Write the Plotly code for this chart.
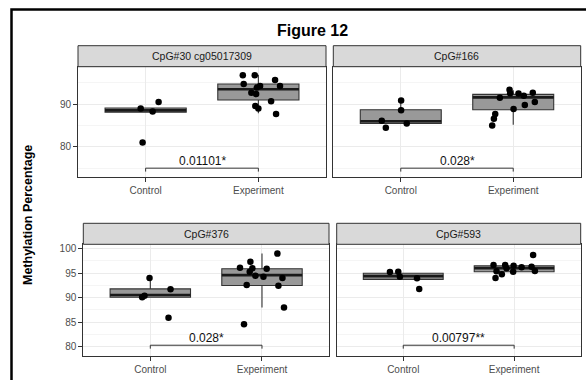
import plotly.graph_objects as go

# ---------------- data ----------------
categories = ["Control", "Experiment"]
panel_titles = ["CpG#30 cg05017309", "CpG#166", "CpG#376", "CpG#593"]
p_labels = ["0.01101*", "0.028*", "0.028*", "0.00797**"]

# methylation values (points) and horizontal jitter (category units)
p1_control = [89.0, 88.3, 90.5, 81.0]
p1_control_jit = [-0.044, 0.062, 0.115, -0.027]
p1_exp = [96.8, 96.8, 95.7, 94.75, 94.3, 94.3, 93.9, 92.7, 92.4, 90.7, 89.6, 89.0, 87.7]
p1_exp_jit = [-0.138, -0.032, 0.148, -0.13, 0.192, 0.015, -0.014, -0.062, -0.02, 0.113, -0.027, 0.0, 0.157]

p2_control = [90.9, 88.6, 86.1, 84.5, 85.5]
p2_control_jit = [0.003, 0.003, -0.169, -0.133, 0.053]
p2_exp = [93.4, 92.6, 91.5, 92.5, 92.0, 92.7, 90.5, 89.8, 88.9, 87.7, 86.6, 85.0]
p2_exp_jit = [-0.033, -0.027, -0.119, 0.047, 0.094, 0.174, 0.192, 0.103, 0.003, -0.16, -0.172, -0.187]

p3_control = [94.0, 91.7, 90.4, 90.1, 85.9]
p3_control_jit = [-0.007, 0.181, -0.052, -0.073, 0.163]
p3_exp = [99.0, 96.1, 97.35, 96.0, 95.3, 94.5, 95.9, 94.3, 94.0, 92.6, 92.45, 88.0, 84.6]
p3_exp_jit = [0.138, -0.197, -0.104, -0.086, -0.11, -0.059, 0.042, 0.013, 0.183, -0.137, 0.147, 0.197, -0.161]

p4_control = [95.25, 95.3, 94.3, 93.95, 91.8]
p4_control_jit = [-0.12, -0.045, -0.03, 0.124, 0.144]
p4_exp = [98.7, 96.7, 96.7, 96.5, 96.2, 96.3, 95.4, 94.0, 94.8, 95.3, 95.45, 96.0]
p4_exp_jit = [0.171, -0.186, -0.081, -0.005, 0.067, 0.157, -0.159, -0.168, -0.111, -0.009, 0.187, -0.069]

# box statistics per panel: [control, experiment]
box_q1 = [[88.1, 91.0], [85.5, 88.7], [90.1, 92.5], [93.75, 95.3]]
box_median = [[88.55, 93.5], [86.0, 91.6], [90.55, 94.6], [94.4, 96.0]]
box_q3 = [[89.1, 94.75], [88.7, 92.3], [91.8, 95.9], [95.0, 96.5]]
box_low = [[88.1, 87.9], [85.5, 85.2], [90.1, 88.0], [93.75, 95.3]]
box_high = [[89.1, 96.9], [90.9, 93.3], [94.0, 99.0], [95.0, 96.7]]

points = [
    [(p1_control, p1_control_jit), (p1_exp, p1_exp_jit)],
    [(p2_control, p2_control_jit), (p2_exp, p2_exp_jit)],
    [(p3_control, p3_control_jit), (p3_exp, p3_exp_jit)],
    [(p4_control, p4_control_jit), (p4_exp, p4_exp_jit)],
]

# ---------------- layout config ----------------
W, H = 586, 380
FONT = "Liberation Sans, Arial, Helvetica, sans-serif"


def fx(px):
    return px / W


def fy(py):
    return 1 - py / H


panels = [
    dict(x=(78, 326), y=(66.7, 176.7), strip=(45.7, 66.7), yr=(73, 98.8), showy=True,
         dtick=10, mdtick=5, bracket=75.0, tip=0.8),
    dict(x=(333.3, 580.7), y=(66.7, 176.7), strip=(45.7, 66.7), yr=(73, 98.8), showy=False,
         dtick=10, mdtick=5, bracket=75.0, tip=0.8),
    dict(x=(83.3, 329), y=(244.3, 355.7), strip=(223.3, 244.3), yr=(78.16, 100.9), showy=True,
         dtick=5, mdtick=2.5, bracket=80.3, tip=0.7),
    dict(x=(336.7, 580.7), y=(244.3, 355.7), strip=(223.3, 244.3), yr=(78.16, 100.9), showy=False,
         dtick=5, mdtick=2.5, bracket=80.3, tip=0.7),
]

BOX_W = 0.72
fig = go.Figure()
shapes = []
annotations = []
layout = {}

for i, p in enumerate(panels):
    n = i + 1
    xa = "x" if n == 1 else f"x{n}"
    ya = "y" if n == 1 else f"y{n}"
    xkey = "xaxis" if n == 1 else f"xaxis{n}"
    ykey = "yaxis" if n == 1 else f"yaxis{n}"

    layout[xkey] = dict(
        domain=[fx(p["x"][0]), fx(p["x"][1])], anchor=ya, range=[0.4, 2.6],
        tickmode="array", tickvals=[1, 2], ticktext=categories,
        showgrid=True, gridcolor="#ebebeb", gridwidth=1, zeroline=False,
        showline=True, mirror=True, linecolor="#333333", linewidth=1,
        ticks="outside", ticklen=4, tickcolor="#333333", tickwidth=1,
        tickfont=dict(size=10, color="#4d4d4d", family=FONT), fixedrange=True,
    )
    layout[ykey] = dict(
        domain=[fy(p["y"][1]), fy(p["y"][0])], anchor=xa, range=list(p["yr"]),
        tick0=0, dtick=p["dtick"], showticklabels=p["showy"],
        ticks="outside" if p["showy"] else "", ticklen=4, tickcolor="#333333", tickwidth=1,
        showgrid=True, gridcolor="#ebebeb", gridwidth=1, zeroline=False,
        minor=dict(showgrid=True, gridcolor="#f5f5f5", gridwidth=0.6, tick0=0, dtick=p["mdtick"]),
        showline=True, mirror=True, linecolor="#333333", linewidth=1,
        tickfont=dict(size=10, color="#4d4d4d", family=FONT), fixedrange=True,
    )

    # strip
    shapes.append(dict(type="rect", xref="paper", yref="paper",
                       x0=fx(p["x"][0]), x1=fx(p["x"][1]),
                       y0=fy(p["strip"][1]), y1=fy(p["strip"][0]),
                       fillcolor="#d9d9d9", line=dict(color="#333333", width=1), layer="above"))
    annotations.append(dict(xref="paper", yref="paper",
                            x=fx((p["x"][0] + p["x"][1]) / 2), y=fy((p["strip"][0] + p["strip"][1]) / 2),
                            text=panel_titles[i], showarrow=False, xanchor="center", yanchor="middle",
                            font=dict(size=10.5, color="#1a1a1a", family=FONT)))

    for j in range(2):
        c = j + 1
        fig.add_trace(go.Box(
            x=[c], q1=[box_q1[i][j]], median=[box_median[i][j]], q3=[box_q3[i][j]],
            lowerfence=[box_low[i][j]], upperfence=[box_high[i][j]],
            width=BOX_W, fillcolor="#999999", line=dict(color="#333333", width=1.1),
            whiskerwidth=0, boxpoints=False, xaxis=xa, yaxis=ya,
            showlegend=False, hoverinfo="skip"))
        fig.add_trace(go.Scatter(
            x=[c - BOX_W / 2, c + BOX_W / 2], y=[box_median[i][j]] * 2, mode="lines",
            line=dict(color="#1a1a1a", width=2.6), xaxis=xa, yaxis=ya,
            showlegend=False, hoverinfo="skip"))
        vals, jit = points[i][j]
        fig.add_trace(go.Scatter(
            x=[c + d for d in jit], y=vals, mode="markers",
            marker=dict(color="black", size=6.5), xaxis=xa, yaxis=ya,
            showlegend=False, hoverinfo="skip"))

    # significance bracket
    b, t = p["bracket"], p["tip"]
    fig.add_trace(go.Scatter(
        x=[1, 1, 2, 2], y=[b - t, b, b, b - t], mode="lines",
        line=dict(color="#333333", width=1), xaxis=xa, yaxis=ya,
        showlegend=False, hoverinfo="skip"))
    annotations.append(dict(xref=xa, yref=ya, x=1.5, y=b, text=p_labels[i], showarrow=False,
                            xanchor="center", yanchor="bottom", yshift=-2,
                            font=dict(size=12, color="#111111", family=FONT)))

# title & y axis title
annotations.append(dict(xref="paper", yref="paper", x=fx(312), y=fy(30), text="<b>Figure 12</b>",
                        showarrow=False, xanchor="center", yanchor="middle",
                        font=dict(size=16, color="black", family=FONT)))
annotations.append(dict(xref="paper", yref="paper", x=fx(28), y=fy(215),
                        text="<b>Methylation Percentage</b>", textangle=-90,
                        showarrow=False, xanchor="center", yanchor="middle",
                        font=dict(size=12.5, color="black", family=FONT)))

# outer black frame (top and left visible)
shapes.append(dict(type="rect", xref="paper", yref="paper",
                   x0=fx(11.5), x1=1.2, y0=-0.2, y1=fy(9.5),
                   line=dict(color="black", width=2.5), fillcolor="rgba(0,0,0,0)", layer="above"))

fig.update_layout(
    width=W, height=H, margin=dict(l=0, r=0, t=0, b=0),
    paper_bgcolor="white", plot_bgcolor="white",
    shapes=shapes, annotations=annotations, showlegend=False,
    font=dict(family=FONT), **layout,
)

fig.write_html("out.html")
